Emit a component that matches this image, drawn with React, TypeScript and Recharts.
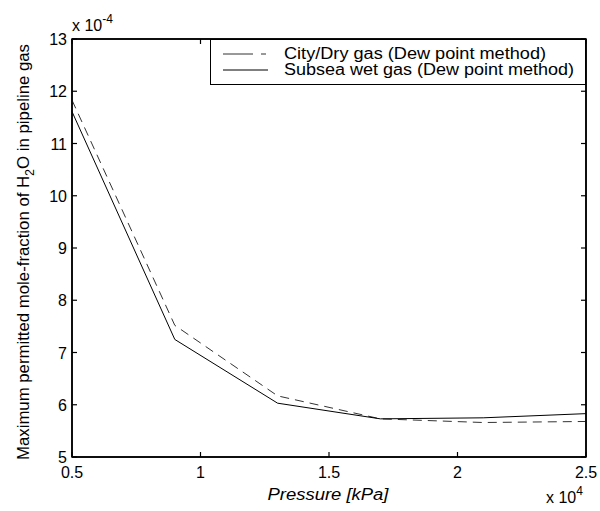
import { LineChart, Line, XAxis, YAxis, Legend, ReferenceArea } from "recharts";

// pressure in kPa
const pressure = [5000, 9000, 13000, 17000, 21000, 25000];
// max permitted mole fraction of H2O
const cityDryGas = [0.001183, 0.000752, 0.000617, 0.000573, 0.000566, 0.000568];
const subseaWetGas = [0.001161, 0.000725, 0.000603, 0.000573, 0.000575, 0.000583];

const xTicks = [5000, 10000, 15000, 20000, 25000];
const yTicks = [0.0005, 0.0006, 0.0007, 0.0008, 0.0009, 0.001, 0.0011, 0.0012, 0.0013];

const seriesNames = ["City/Dry gas (Dew point method)", "Subsea wet gas (Dew point method)"];

const data = pressure.map((p, i) => ({
  p,
  dry: cityDryGas[i],
  wet: subseaWetGas[i],
}));

const FONT = "'Liberation Sans', Arial, sans-serif";
const FS = 16;
const TICK = 5;

const fmtX = (v: number) => String(+(v / 10000).toFixed(1));
const fmtY = (v: number) => String(Math.round(v * 10000));

// MATLAB style: tick marks point into the plot
const BottomTick = (props: any) => {
  const { x, y, payload } = props;
  return (
    <g>
      <line x1={x} x2={x} y1={y} y2={y - TICK} stroke="#000" strokeWidth={1.2} />
      <text x={x} y={y + 21} textAnchor="middle" fontSize={FS} fontFamily={FONT} fill="#000">
        {fmtX(payload.value)}
      </text>
    </g>
  );
};

const TopTick = (props: any) => {
  const { x, y } = props;
  return <line x1={x} x2={x} y1={y} y2={y + TICK} stroke="#000" strokeWidth={1.2} />;
};

const LeftTick = (props: any) => {
  const { x, y, payload } = props;
  return (
    <g>
      <line x1={x} x2={x + TICK} y1={y} y2={y} stroke="#000" strokeWidth={1.2} />
      <text x={x - 5} y={y + 6} textAnchor="end" fontSize={FS} fontFamily={FONT} fill="#000">
        {fmtY(payload.value)}
      </text>
    </g>
  );
};

const RightTick = (props: any) => {
  const { x, y } = props;
  return <line x1={x} x2={x - TICK} y1={y} y2={y} stroke="#000" strokeWidth={1.2} />;
};

const renderLegend = () => (
  <div
    style={{
      width: 374,
      height: 44,
      border: "1.5px solid #000",
      background: "#fff",
      fontFamily: FONT,
      fontSize: FS,
      boxSizing: "content-box",
    }}
  >
    {seriesNames.map((name, i) => (
      <div key={name} style={{ display: "flex", alignItems: "center", height: 16, marginTop: i === 0 ? 6 : 0 }}>
        <svg width={73} height={16}>
          <line
            x1={12}
            x2={57}
            y1={8}
            y2={8}
            stroke={i === 0 ? "#333" : "#000"}
            strokeDasharray={i === 0 ? "30 8 5 50" : undefined}
          />
        </svg>
        <svg width={292} height={16} style={{ overflow: "visible" }}>
          <text x={0} y={13} fontSize={16} fontFamily={FONT} textLength={i === 0 ? 262 : 290} lengthAdjust="spacingAndGlyphs">
            {name}
          </text>
        </svg>
      </div>
    ))}
  </div>
);

export default function App() {
  return (
    <div style={{ position: "absolute", left: 0, top: 0, background: "#fff" }}>
      <LineChart width={600} height={511} data={data} margin={{ top: 38, right: 13, left: 0, bottom: 0 }}>
        <XAxis
          dataKey="p"
          type="number"
          domain={[5000, 25000]}
          ticks={xTicks}
          height={54}
          tickSize={0}
          tickMargin={0}
          tickLine={false}
          axisLine={{ stroke: "#000", strokeWidth: 1.5 }}
          tick={BottomTick}
          interval={0}
        />
        <XAxis
          xAxisId="top"
          orientation="top"
          dataKey="p"
          type="number"
          domain={[5000, 25000]}
          ticks={xTicks}
          height={1}
          tickSize={0}
          tickMargin={0}
          tickLine={false}
          axisLine={{ stroke: "#000", strokeWidth: 1.5 }}
          tick={TopTick}
          interval={0}
        />
        <YAxis
          type="number"
          domain={[0.0005, 0.0013]}
          ticks={yTicks}
          width={72}
          tickSize={0}
          tickMargin={0}
          tickLine={false}
          axisLine={{ stroke: "#000", strokeWidth: 1.5 }}
          tick={LeftTick}
          interval={0}
          allowDataOverflow
        />
        <YAxis
          yAxisId="right"
          orientation="right"
          type="number"
          domain={[0.0005, 0.0013]}
          ticks={yTicks}
          width={1}
          tickSize={0}
          tickMargin={0}
          tickLine={false}
          axisLine={{ stroke: "#000", strokeWidth: 1.5 }}
          tick={RightTick}
          interval={0}
        />
        {/* plot box */}
        <ReferenceArea
          x1={5000}
          x2={25000}
          y1={0.0005}
          y2={0.0013}
          fill="none"
          stroke="#000"
          strokeWidth={1.5}
          fillOpacity={0}
        />
        <Legend
          layout="vertical"
          align="center"
          verticalAlign="middle"
          content={renderLegend}
          wrapperStyle={{ position: "absolute", left: 210, top: 39, width: "auto", height: "auto" }}
        />
        {/* hidden copy so the top / right axes get drawn */}
        <Line
          xAxisId="top"
          yAxisId="right"
          type="linear"
          dataKey="wet"
          stroke="none"
          dot={false}
          legendType="none"
          isAnimationActive={false}
        />
        <Line
          type="linear"
          dataKey="dry"
          stroke="#333"
          strokeWidth={1}
          strokeDasharray="9 6"
          dot={false}
          isAnimationActive={false}
        />
        <Line
          type="linear"
          dataKey="wet"
          stroke="#000"
          strokeWidth={1}
          dot={false}
          isAnimationActive={false}
        />
        <text x={328} y={500} textAnchor="middle" fontSize={16} fontStyle="italic" fontFamily={FONT} textLength={121} lengthAdjust="spacingAndGlyphs">
          Pressure [kPa]
        </text>
        <text x={546} y={503} fontSize={16} fontFamily={FONT}>
          x 10
          <tspan dy={-8} fontSize={12}>4</tspan>
        </text>
        <text x={72} y={31} fontSize={16} fontFamily={FONT}>
          x 10
          <tspan dy={-8} fontSize={12}>-4</tspan>
        </text>
        <text
          transform="translate(29, 460) rotate(-90)"
          fontSize={16}
          fontFamily={FONT}
          textLength={416}
          lengthAdjust="spacingAndGlyphs"
        >
          Maximum permitted mole-fraction of H
          <tspan dy={5} fontSize={12}>2</tspan>
          <tspan dy={-5}>O in pipeline gas</tspan>
        </text>
      </LineChart>
    </div>
  );
}
